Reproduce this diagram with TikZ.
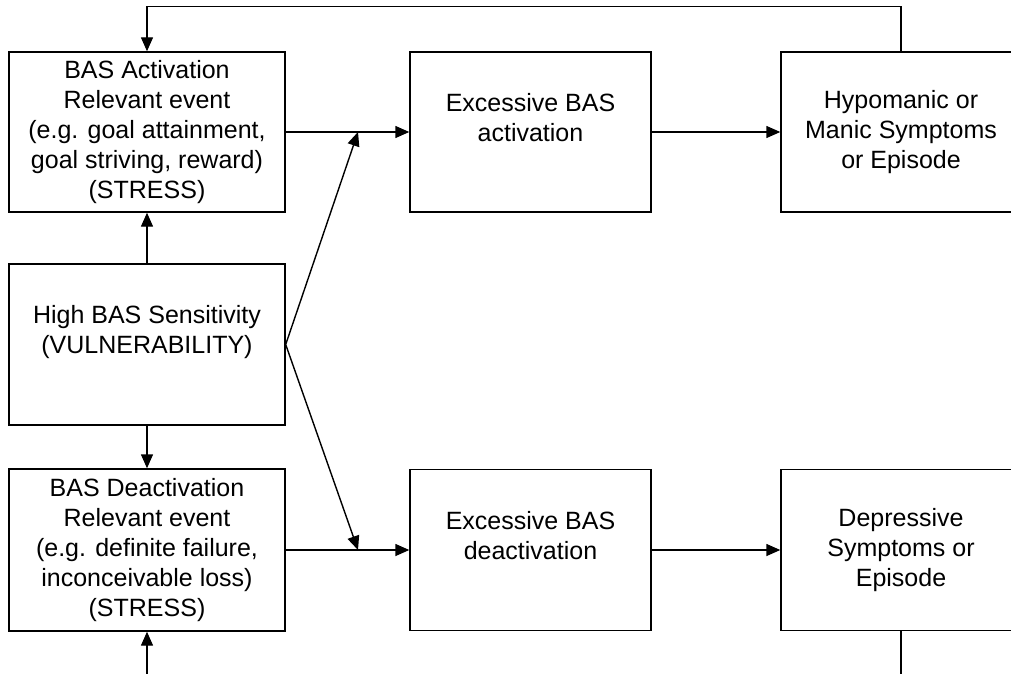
\documentclass[tikz,border=0pt]{standalone}
\usepackage{fontspec}
\setmainfont{Liberation Sans}
\usetikzlibrary{positioning,calc,arrows.meta}

\tikzset{
  box/.style={draw, line width=1.4pt, align=center, inner sep=0pt,
    font=\fontsize{25}{30}\selectfont},
  arr/.style={line width=1.4pt, -{Triangle[length=14pt,width=12pt]}},
  ln/.style={line width=1.4pt}
}

\begin{document}
\begin{tikzpicture}[x=1pt,y=-1pt]
	\useasboundingbox (0,0) rectangle (1011,674);

	% linke Spalte: Ereignisse und Vulnerabilität
	\node[box, minimum width=276, minimum height=160] (actev) at (147,132)
		{BAS Activation\\Relevant event\\(e.g. goal attainment,\\goal striving, reward)\\(STRESS)};
	\node[box, minimum width=276, minimum height=161] (sens) at (147,344.5)
		{High BAS Sensitivity\\(VULNERABILITY)\\\mbox{}};
	\node[box, minimum width=276, minimum height=162] (deactev) at (147,550)
		{BAS Deactivation\\Relevant event\\(e.g. definite failure,\\inconceivable loss)\\(STRESS)};

	% mittlere Spalte
	\node[box, minimum width=241, minimum height=160] (excact) at (530.5,132)
		{Excessive BAS\\activation\\\mbox{}};
	\node[box, minimum width=241, minimum height=161] (excdeact) at (530.5,550)
		{Excessive BAS\\deactivation\\\mbox{}};

	% rechte Spalte (rechts abgeschnitten)
	\node[box, minimum width=240, minimum height=160] (mania) at (901,132)
		{Hypomanic or\\Manic Symptoms\\or Episode};
	\node[box, minimum width=240, minimum height=161] (depr) at (901,550)
		{Depressive\\Symptoms or\\Episode};

	% Knotenpunkte auf den waagrechten Pfeilen
	\coordinate (jtop) at (358,132);
	\coordinate (jbot) at (358,550);
	\coordinate (inbot) at (147,674);
	\coordinate (outbot) at (901,674);

	% Pfeile
	\draw[arr] (actev.east) -- (excact.west);
	\draw[arr] (excact.east) -- (mania.west);
	\draw[arr] (deactev.east) -- (excdeact.west);
	\draw[arr] (excdeact.east) -- (depr.west);
	\draw[arr] (sens.east) -- (jtop);
	\draw[arr] (sens.east) -- (jbot);
	\draw[arr] (sens.north) -- (actev.south);
	\draw[arr] (sens.south) -- (deactev.north);
	\draw[arr] (inbot) -- (deactev.south);
	\draw[ln] (depr.south) -- (outbot);

	% Rückkopplung oben
	\draw[arr] (mania.north) -- ++(0,-45) -| (actev.north);
\end{tikzpicture}
\end{document}
